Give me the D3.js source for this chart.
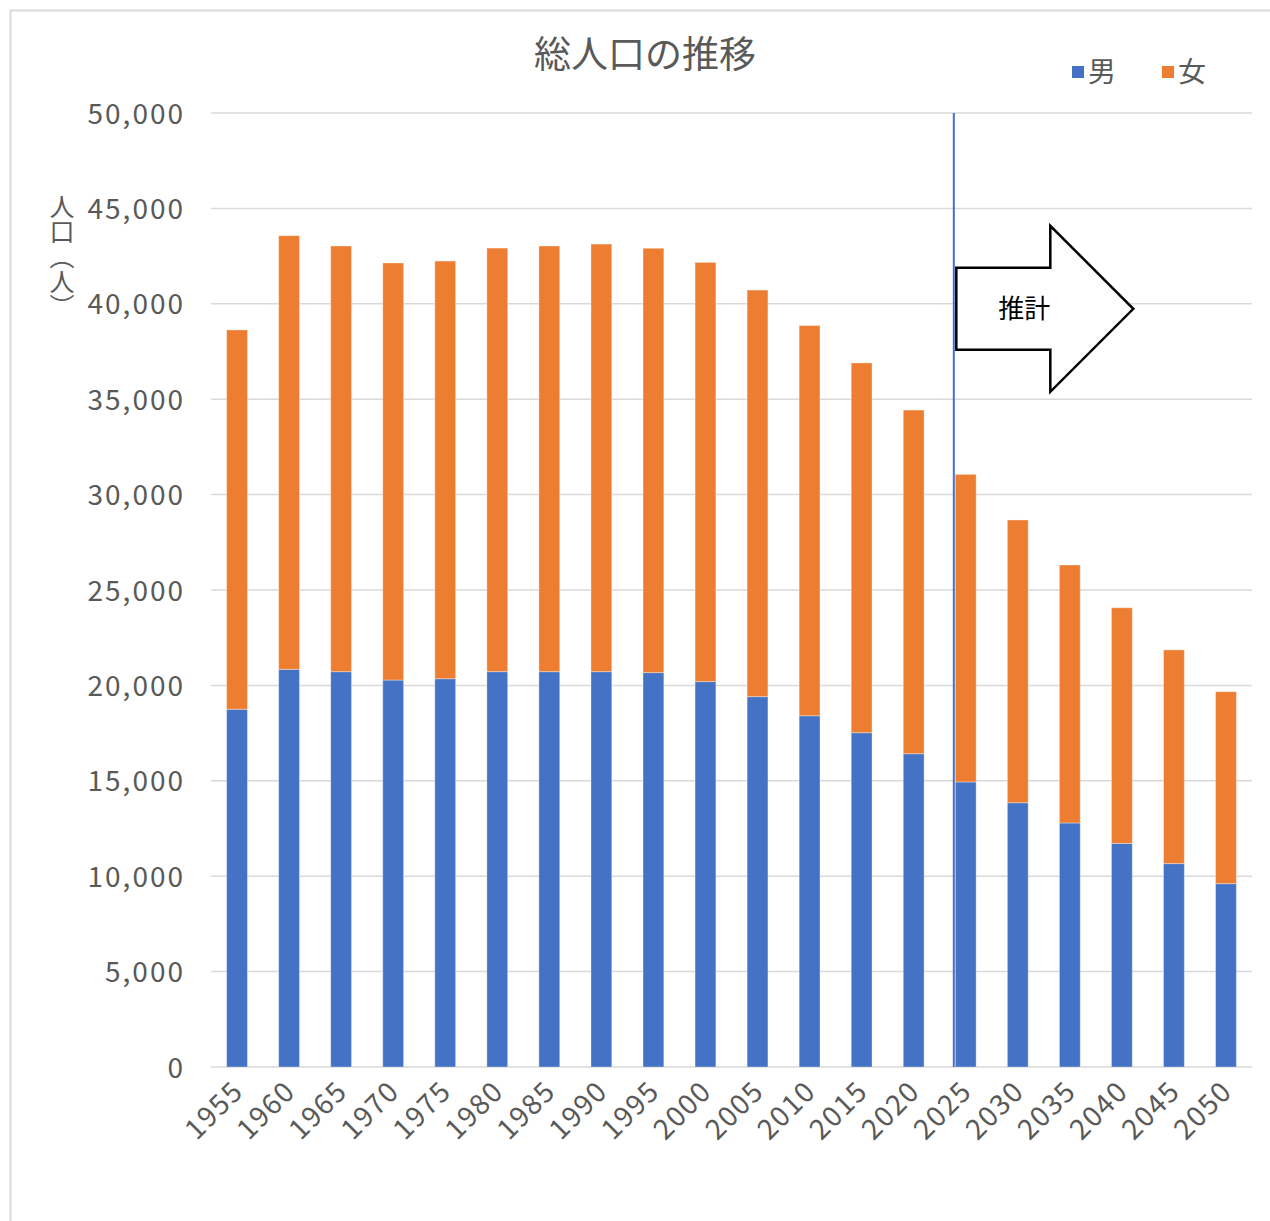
<!DOCTYPE html>
<html>
<head>
<meta charset="utf-8">
<script src="https://cdn.jsdelivr.net/npm/d3@7"></script>
<style>
body { margin: 0; background: #fff; }
text { font-family: "Noto Sans CJK JP", "Noto Sans", sans-serif; }
</style>
</head>
<body>
<svg id="chart" width="1270" height="1221"></svg>
<script>
var years = ["1955","1960","1965","1970","1975","1980","1985","1990","1995","2000",
  "2005","2010","2015","2020","2025","2030","2035","2040","2045","2050"],
male = [18750, 20840, 20720, 20280, 20350, 20720, 20720, 20720, 20670, 20200,
  19410, 18410, 17520, 16420, 14940, 13850, 12790, 11720, 10660, 9610],
female = [19880, 22730, 22310, 21860, 21890, 22200, 22310, 22410, 22240, 21970,
  21310, 20450, 19380, 18010, 16120, 14820, 13520, 12350, 11200, 10060],
yTicks = [0, 5000, 10000, 15000, 20000, 25000, 30000, 35000, 40000, 45000, 50000],
seriesNames = ["男", "女"],
colors = ["#4472c4", "#ed7d31"],
title = "総人口の推移",
yTitle = "人口（人）",
noteText = "推計",
noteYear = "2025";

var textColor = "#595959",
gridColor = "#d9d9d9",
numFont = "'Noto Sans', sans-serif",
plotLeft = 211, plotRight = 1252, plotTop = 113, plotBottom = 1067;

var svg = d3.select("#chart");

// frame
svg.append("rect")
.attr("x", 10.5).attr("y", 10.5)
.attr("width", 1300).attr("height", 1300)
.attr("fill", "#fff")
.attr("stroke", gridColor)
.attr("stroke-width", 2);

var x = d3.scaleBand()
.domain(years)
.range([plotLeft, plotRight])
.paddingInner(0.6)
.paddingOuter(0.3);

var y = d3.scaleLinear()
.domain([0, 50000])
.range([plotBottom, plotTop]);

// grid
svg.append("g")
.selectAll("line")
.data(yTicks)
.enter().append("line")
.attr("x1", plotLeft).attr("x2", plotRight)
.attr("y1", function (d) { return y(d); })
.attr("y2", function (d) { return y(d); })
.attr("stroke", gridColor)
.attr("stroke-width", 1.5);

// y axis labels
var yAxis = svg.append("g")
.attr("transform", "translate(" + (plotLeft - 26) + ",0)")
.call(d3.axisLeft(y).tickValues(yTicks).tickSize(0).tickPadding(0).tickFormat(d3.format(",")));
yAxis.select(".domain").remove();
yAxis.selectAll("text")
.attr("fill", textColor)
.attr("font-size", "28px")
.attr("font-family", numFont)
.attr("letter-spacing", "2px")
.attr("dy", "0.36em");

// stacked bars
var rows = years.map(function (yr, i) { return { year: yr, m: male[i], f: female[i] }; });
var stack = d3.stack().keys(["m", "f"])(rows);

svg.append("g")
.selectAll("g")
.data(stack)
.enter().append("g")
.attr("fill", function (d, i) { return colors[i]; })
.selectAll("rect")
.data(function (d) { return d; })
.enter().append("rect")
.attr("x", function (d) { return x(d.data.year); })
.attr("width", x.bandwidth())
.attr("y", function (d) { return y(d[1]); })
.attr("height", function (d) { return y(d[0]) - y(d[1]); })
.attr("stroke", "rgba(255,255,255,0.35)")
.attr("stroke-width", 1);

// x labels
svg.append("g")
.selectAll("text")
.data(years)
.enter().append("text")
.attr("transform", function (d) {
  return "translate(" + (x(d) + x.bandwidth() / 2 + 1) + "," + (plotBottom + 19) + ")rotate(-45)";
})
.attr("text-anchor", "end")
.attr("dy", "0.35em")
.attr("font-size", "28px")
.attr("font-family", numFont)
.attr("letter-spacing", "1.5px")
.attr("fill", textColor)
.text(function (d) { return d; });

// projection divider
var lineX = x(noteYear) - 1.5;
svg.append("line")
.attr("x1", lineX).attr("x2", lineX)
.attr("y1", plotTop).attr("y2", plotBottom)
.attr("stroke", "#4472c4")
.attr("stroke-width", 2);

// arrow
var ax = lineX + 2.5, ay = y(40000) + 5;
var arrow = [[ax, ay - 41], [ax + 94, ay - 41], [ax + 94, ay - 83], [ax + 177, ay],
  [ax + 94, ay + 83], [ax + 94, ay + 41], [ax, ay + 41]];
svg.append("path")
.attr("d", d3.line()(arrow) + "Z")
.attr("fill", "#fff")
.attr("stroke", "#000")
.attr("stroke-width", 2.5);
svg.append("text")
.attr("x", ax + 68).attr("y", ay)
.attr("dy", "0.36em")
.attr("text-anchor", "middle")
.attr("font-size", "26px")
.attr("fill", "#000")
.text(noteText);

// title
svg.append("text")
.attr("x", 645).attr("y", 55)
.attr("dy", "0.36em")
.attr("text-anchor", "middle")
.attr("font-size", "37px")
.attr("fill", textColor)
.text(title);

// y title
svg.append("text")
.attr("x", 62).attr("y", 194)
.style("writing-mode", "vertical-rl")
.attr("font-size", "25px")
.attr("fill", textColor)
.text(yTitle);

// legend
var legend = svg.append("g")
.selectAll("g")
.data(seriesNames)
.enter().append("g")
.attr("transform", function (d, i) { return "translate(" + (1072 + i * 90) + ",72)"; });
legend.append("rect")
.attr("x", 0).attr("y", -6)
.attr("width", 12).attr("height", 12)
.attr("fill", function (d, i) { return colors[i]; });
legend.append("text")
.attr("x", 16).attr("y", 0)
.attr("dy", "0.36em")
.attr("font-size", "28px")
.attr("fill", textColor)
.text(function (d) { return d; });
</script>
</body>
</html>
